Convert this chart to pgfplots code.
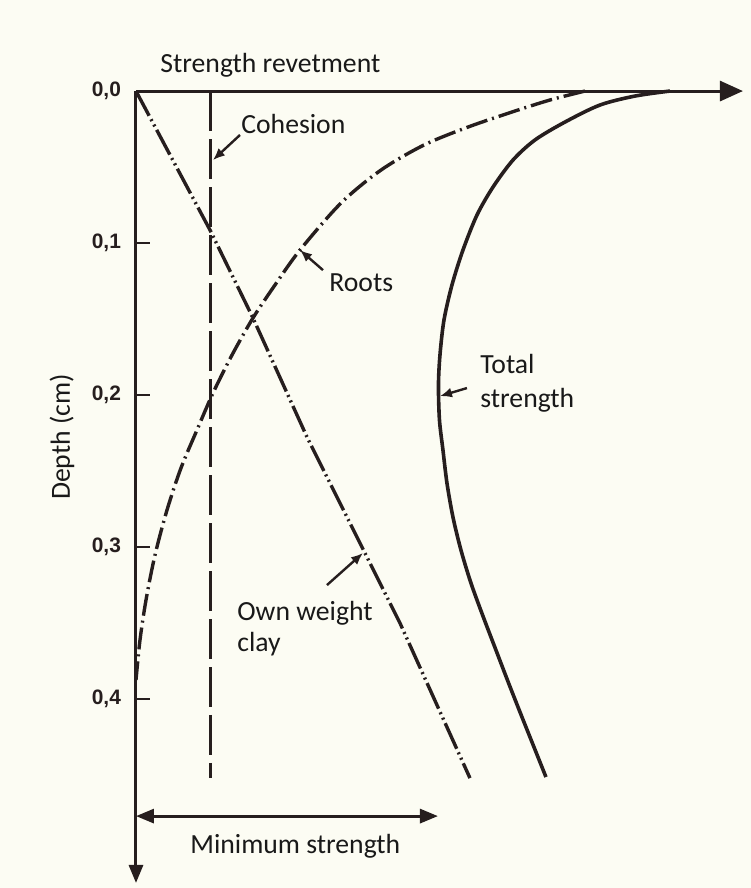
\documentclass[border=0pt]{standalone}
\usepackage{fontspec}
\setmainfont{Carlito}
\newfontfamily\tickfont{Liberation Sans}
\usepackage{pgfplots}
\pgfplotsset{compat=1.18}
\usetikzlibrary{arrows.meta}
\definecolor{ink}{RGB}{38,30,30}
\definecolor{txt}{RGB}{25,25,25}
\definecolor{paper}{RGB}{252,252,243}
\newcommand\lbl{\fontsize{13.9}{16}\selectfont}
\begin{document}
\begin{tikzpicture}
\begin{axis}[
  set layers,
  scale only axis, width=303.5bp, height=396bp,
  xmin=0, xmax=6.07, ymin=0, ymax=0.521,
  y dir=reverse,
  clip=false,
  axis x line=middle,
  axis y line=left,
  hide obscured y ticks=false,
  xtick=\empty,
  ytick={0,0.1,0.2,0.3,0.4},
  major tick length=0bp,
  axis line style={ink, line width=1.5bp},
  x axis line style={-{Triangle[length=11.5bp,width=10bp]}},
  y axis line style={-{Triangle[length=9bp,width=7bp]}},
  yticklabel style={font=\tickfont\bfseries\fontsize{10.5}{12}\selectfont, text=ink, xshift=-4bp},
  /pgf/number format/.cd, use comma, fixed, fixed zerofill, precision=1, assume math mode=true,
]
\begin{pgfonlayer}{axis background}
\fill[paper] (axis cs:-1.36,-0.0599) rectangle (axis cs:6.15,0.5243);
\end{pgfonlayer}
\path (axis cs:-1.36,-0.0599) rectangle (axis cs:6.15,0.5243);

% short tick marks pointing into the plot
\draw[ink, line width=1.3bp] (axis cs:0,0.1) -- ++(7bp,0);
\draw[ink, line width=1.3bp] (axis cs:0,0.2) -- ++(7bp,0);
\draw[ink, line width=1.3bp] (axis cs:0,0.3) -- ++(7bp,0);
\draw[ink, line width=1.3bp] (axis cs:0,0.4) -- ++(7bp,0);

% Total strength
\addplot[ink, line width=1.8bp, smooth] coordinates {
(5.34,0.0000) (4.99,0.0033) (4.64,0.0092) (4.29,0.0204) (3.99,0.0322)
(3.77,0.0454) (3.57,0.0632) (3.41,0.0816) (3.27,0.1046) (3.16,0.1276)
(3.08,0.1507) (3.04,0.1737) (3.025,0.1934) (3.035,0.2164) (3.07,0.2362)
(3.11,0.2579) (3.17,0.2803) (3.25,0.3020) (3.35,0.3237) (3.47,0.3454)
(3.60,0.3678) (3.73,0.3901) (3.86,0.4118) (4.10,0.4513)
};
% Roots
\addplot[ink, line width=1.7bp, smooth, dash pattern=on 11bp off 2.5bp on 1bp off 2.5bp] coordinates {
(4.49,0.0000) (4.14,0.0059) (3.76,0.0138) (3.32,0.0237) (2.88,0.0355)
(2.45,0.0520) (2.05,0.0737) (1.64,0.1046) (1.39,0.1276) (1.17,0.1493)
(0.96,0.1737) (0.77,0.1987) (0.61,0.2230) (0.45,0.2480) (0.31,0.2757)
(0.19,0.3053) (0.10,0.3349) (0.04,0.3612) (0.00,0.3875)
};
% Own weight clay
\addplot[ink, line width=1.7bp, dash pattern=on 14bp off 2bp on 1bp off 2bp on 1bp off 2bp] coordinates {
(0,0) (0.74,0.0914) (1.17,0.1493) (1.71,0.2276) (2.24,0.2974) (2.64,0.3500) (3.34,0.4520)
};
% Cohesion
\addplot[ink, line width=1.5bp, dash pattern=on 20bp off 4bp] coordinates {
(0.75,0) (0.75,0.452)
};

% annotation arrows
\draw[ink, line width=1.2bp, -{Latex[length=6bp,width=5bp]}] (axis cs:1.04,0.0289) -- (axis cs:0.77,0.0454);
\draw[ink, line width=1.2bp, -{Latex[length=6bp,width=5bp]}] (axis cs:1.87,0.1178) -- (axis cs:1.64,0.1046);
\draw[ink, line width=1.2bp, -{Latex[length=6bp,width=5bp]}] (axis cs:3.31,0.1954) -- (axis cs:3.04,0.2007);
\draw[ink, line width=1.2bp, -{Latex[length=6bp,width=5bp]}] (axis cs:1.91,0.3250) -- (axis cs:2.27,0.3039);
\draw[ink, line width=1.5bp, {Triangle[length=9bp,width=7bp]}-{Triangle[length=9bp,width=7bp]}] (axis cs:0,0.477) -- (axis cs:3.02,0.477);

% labels
\node[anchor=base west, font=\lbl, text=txt, inner sep=0pt] at (axis cs:0.24,-0.0125) {Strength revetment};
\node[anchor=west, font=\lbl, text=txt, inner sep=0pt] at (axis cs:1.05,0.0217) {Cohesion};
\node[anchor=west, font=\lbl, text=txt, inner sep=0pt] at (axis cs:1.93,0.1263) {Roots};
\node[anchor=base west, font=\lbl, text=txt, inner sep=0pt] at (axis cs:3.44,0.1855) {Total};
\node[anchor=base west, font=\lbl, text=txt, inner sep=0pt] at (axis cs:3.44,0.2079) {strength};
\node[anchor=base west, font=\lbl, text=txt, inner sep=0pt] at (axis cs:1.01,0.348) {Own weight};
\node[anchor=base west, font=\lbl, text=txt, inner sep=0pt] at (axis cs:1.01,0.369) {clay};
\node[anchor=base west, font=\lbl, text=txt, inner sep=0pt] at (axis cs:0.54,0.5013) {Minimum strength};
\node[rotate=90, font=\lbl, text=txt, inner sep=0pt] at (axis cs:-0.74,0.2276) {Depth (cm)};
\end{axis}
\end{tikzpicture}
\end{document}
